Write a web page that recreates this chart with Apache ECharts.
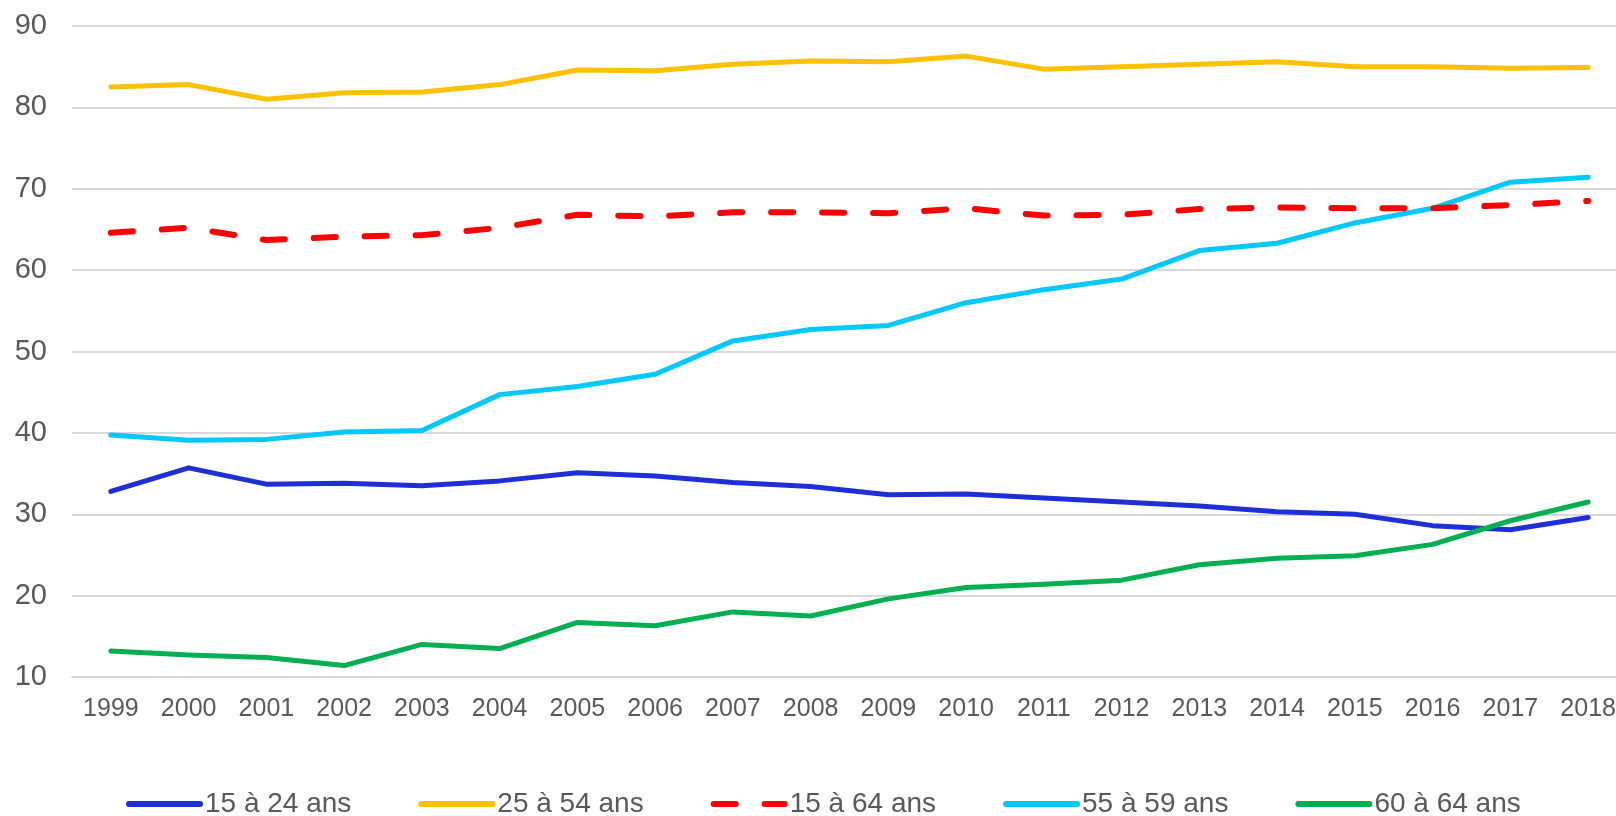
<!DOCTYPE html>
<html>
<head>
<meta charset="utf-8">
<script src="https://cdn.jsdelivr.net/npm/echarts@6/dist/echarts.min.js"></script>
<style>
  html, body { margin: 0; padding: 0; background: #fff; }
  #chart { width: 1616px; height: 816px; }
</style>
</head>
<body>
<div id="chart"></div>
<script>
// years on the x axis
var years = ['1999', '2000', '2001', '2002', '2003', '2004', '2005', '2006', '2007', '2008',
  '2009', '2010', '2011', '2012', '2013', '2014', '2015', '2016', '2017', '2018'];

var names = ['15 à 24 ans', '25 à 54 ans', '15 à 64 ans', '55 à 59 ans', '60 à 64 ans'];

var age15_24 = [32.8, 35.7, 33.7, 33.8, 33.5, 34.1, 35.1, 34.7, 33.9, 33.4,
  32.4, 32.5, 32.0, 31.5, 31.0, 30.3, 30.0, 28.6, 28.1, 29.6];
var age25_54 = [82.5, 82.8, 81.0, 81.8, 81.9, 82.8, 84.6, 84.5, 85.3, 85.7,
  85.6, 86.3, 84.7, 85.0, 85.3, 85.6, 85.0, 85.0, 84.8, 84.9];
var age15_64 = [64.6, 65.2, 63.7, 64.1, 64.3, 65.2, 66.8, 66.6, 67.1, 67.1,
  67.0, 67.6, 66.7, 66.8, 67.5, 67.7, 67.6, 67.6, 68.0, 68.5];
var age55_59 = [39.75, 39.1, 39.2, 40.1, 40.3, 44.7, 45.7, 47.2, 51.3, 52.7,
  53.2, 56.0, 57.6, 58.9, 62.4, 63.3, 65.8, 67.6, 70.8, 71.4];
var age60_64 = [13.2, 12.7, 12.4, 11.4, 14.0, 13.5, 16.7, 16.3, 18.0, 17.5,
  19.6, 21.0, 21.4, 21.9, 23.8, 24.6, 24.9, 26.3, 29.2, 31.5];

var yTicks = [10, 20, 30, 40, 50, 60, 70, 80, 90];

var colors = ['#1f2fd6', '#ffc000', '#ff0000', '#00c8fa', '#00b050'];
var grey = '#595959';
var font = 'Liberation Sans, Arial, sans-serif';

function line(name, data, color, dashed) {
  return {
    name: name,
    type: 'line',
    data: data,
    symbol: 'none',
    z: dashed ? 3 : 2,
    lineStyle: {
      color: color,
      width: dashed ? 6 : 5,
      type: dashed ? [22, 29] : 'solid',
      cap: 'round',
      join: 'round'
    },
    itemStyle: { color: color }
  };
}

var chart = echarts.init(document.getElementById('chart'));
chart.setOption({
  animation: false,
  textStyle: { fontFamily: font },
  grid: { left: 72, top: 26, bottom: 139, width: 1555, outerBoundsMode: 'none' },
  legend: {
    data: names,
    left: 126,
    top: 790,
    padding: 0,
    itemWidth: 71,
    itemHeight: 14,
    itemGap: 67,
    lineStyle: { width: 6, cap: 'round' },
    itemStyle: { opacity: 0 },
    textStyle: { color: grey, fontSize: 28, fontFamily: font }
  },
  xAxis: {
    type: 'category',
    data: years,
    boundaryGap: true,
    axisLine: { lineStyle: { color: '#d9d9d9', width: 2 } },
    axisTick: { inside: true, length: 7, lineStyle: { color: '#d9d9d9', width: 2 } },
    axisLabel: { color: grey, fontSize: 25, margin: 20, fontFamily: font }
  },
  yAxis: {
    type: 'value',
    min: yTicks[0],
    max: yTicks[yTicks.length - 1],
    interval: 10,
    axisLine: { show: false },
    axisTick: { show: false },
    splitLine: { lineStyle: { color: '#d9d9d9', width: 2 } },
    axisLabel: { color: grey, fontSize: 29, margin: 25, fontFamily: font }
  },
  series: [
    line(names[0], age15_24, colors[0]),
    line(names[1], age25_54, colors[1]),
    line(names[2], age15_64, colors[2], true),
    line(names[3], age55_59, colors[3]),
    line(names[4], age60_64, colors[4])
  ]
});
</script>
</body>
</html>
